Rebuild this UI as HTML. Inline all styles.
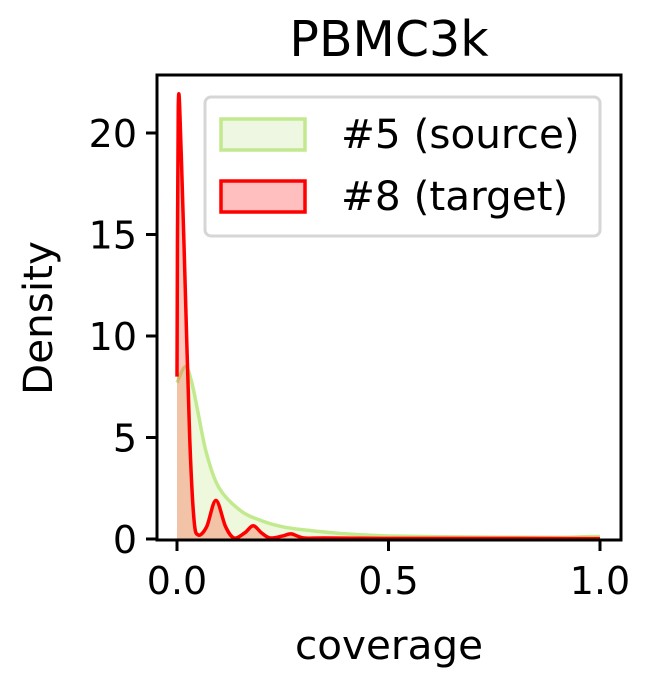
<!DOCTYPE html>
<html><head><meta charset="utf-8"><style>
body{margin:0;background:#fff}
svg{display:block;font-family:"DejaVu Sans","Liberation Sans",sans-serif}
</style></head><body>
<svg id="chart" width="647" height="684">
<text x="389" y="56" style="font-size:49px" text-anchor="middle">PBMC3k</text>
<g id="plot"></g>
<rect x="157" y="75" width="464" height="465" fill="none" stroke="#000" stroke-width="3"/>
<g id="axes"></g>
<text x="389" y="659" style="font-size:40.5px" text-anchor="middle">coverage</text>
<text transform="translate(52,318) rotate(-90)" style="font-size:40.5px" text-anchor="middle">Density</text>
<g>
<rect x="205" y="97" width="395" height="139" rx="6" fill="#fff" fill-opacity="0.8" stroke="#d6d6d6" stroke-width="3"/>
<rect x="221" y="119" width="84" height="31" fill="#edf7e1" stroke="#c2e98e" stroke-width="3.5"/>
<text x="341" y="148" style="font-size:40.5px">#5 (source)</text>
<rect x="221" y="181" width="84" height="31" fill="#ffbfbf" stroke="#ff0000" stroke-width="3.5"/>
<text x="341" y="210" style="font-size:40.5px">#8 (target)</text>
</g>
</svg>
<script>
const srcX=[0,0.02,0.035,0.05,0.07,0.1,0.15,0.2,0.25,0.3,0.4,0.5,0.7,0.9,0.97,1.0];
const srcY=[7.7,8.5,7.7,6.2,4.2,2.5,1.4,0.9,0.6,0.45,0.25,0.15,0.1,0.08,0.12,0.12];
const tgtX=[0,0.003,0.01,0.02,0.03,0.04,0.05,0.07,0.092,0.115,0.135,0.16,0.18,0.2,0.22,0.25,0.27,0.3,0.35,0.5,0.8,1.0];
const tgtY=[8,21.3,19,12,5,1,0.2,0.6,1.9,0.6,0.05,0.3,0.65,0.3,0.05,0.15,0.25,0.05,0.05,0.03,0.03,0.02];
const xTicks=[0,0.5,1.0];
const xTickLabels=["0.0","0.5","1.0"];
const yTicks=[0,5,10,15,20];
const ns="http://www.w3.org/2000/svg";
const sx=v=>177+v*423, sy=v=>539-v*20.3;
function path(xs,ys){
  const p=xs.map((x,i)=>[sx(x),sy(ys[i])]);
  let d="M"+p[0][0]+","+p[0][1];
  for(let i=0;i<p.length-1;i++){
    const p0=p[Math.max(i-1,0)],p1=p[i],p2=p[i+1],p3=p[Math.min(i+2,p.length-1)];
    let c1y=p1[1]+(p2[1]-p0[1])/6, c2y=p2[1]-(p3[1]-p1[1])/6;
    c1y=Math.min(c1y,539);c2y=Math.min(c2y,539);
    d+=` C${p1[0]+(p2[0]-p0[0])/6},${c1y} ${p2[0]-(p3[0]-p1[0])/6},${c2y} ${p2[0]},${p2[1]}`;
  }
  return d;
}
const plot=document.getElementById('plot');
function series(xs,ys,fill,fo,stroke,name){
  const d=path(xs,ys);
  const f=document.createElementNS(ns,'path');
  f.setAttribute('d',`M${sx(xs[0])},${sy(0)} L`+d.slice(1)+` L${sx(xs[xs.length-1])},${sy(0)} Z`);
  f.setAttribute('fill',fill);f.setAttribute('fill-opacity',fo);
  
  
  plot.appendChild(f);
  const l=document.createElementNS(ns,'path');
  l.setAttribute('d',d);l.setAttribute('fill','none');l.setAttribute('stroke',stroke);l.setAttribute('stroke-width','3.5');
  
  
  plot.appendChild(l);
}
series(srcX,srcY,'#c2e98e',0.3,'#c2e98e','source-density');
series(tgtX,tgtY,'#ff4a2a',0.3,'#ff0000','target-density');
const axes=document.getElementById('axes');
xTicks.forEach((t,i)=>{
  const l=document.createElementNS(ns,'line');
  l.setAttribute('x1',sx(t));l.setAttribute('x2',sx(t));l.setAttribute('y1',540);l.setAttribute('y2',551);
  l.setAttribute('stroke','#000');l.setAttribute('stroke-width','3');
  
  
  axes.appendChild(l);
  const tx=document.createElementNS(ns,'text');
  tx.setAttribute('x',sx(t));tx.setAttribute('y',594);tx.setAttribute('style','font-size:38px');tx.setAttribute('text-anchor','middle');
  tx.textContent=xTickLabels[i];
  
  
  axes.appendChild(tx);
});
yTicks.forEach(t=>{
  const l=document.createElementNS(ns,'line');
  l.setAttribute('x1',146);l.setAttribute('x2',157);l.setAttribute('y1',sy(t));l.setAttribute('y2',sy(t));
  l.setAttribute('stroke','#000');l.setAttribute('stroke-width','3');
  
  
  axes.appendChild(l);
  const tx=document.createElementNS(ns,'text');
  tx.setAttribute('x',137);tx.setAttribute('y',sy(t)+14);tx.setAttribute('style','font-size:38px');tx.setAttribute('text-anchor','end');
  tx.textContent=String(t);
  
  
  axes.appendChild(tx);
});
</script>
</body></html>
